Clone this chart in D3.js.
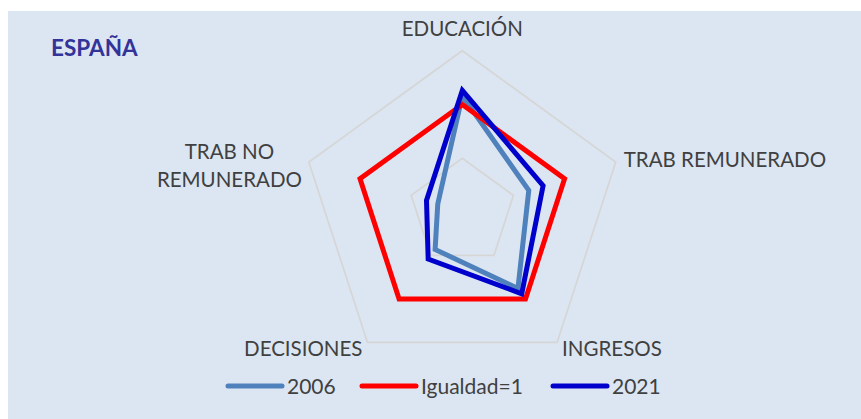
<!DOCTYPE html>
<html>
<head>
<meta charset="utf-8">
<script src="https://cdn.jsdelivr.net/npm/d3@7"></script>
<style>
  body { margin: 0; background: #fff; }
  text { font-family: Lato, "Open Sans", sans-serif; }
</style>
</head>
<body>
<svg id="chart" width="861" height="419"></svg>
<script>
// axes, clockwise from the top
const axes = ["EDUCACIÓN", "TRAB REMUNERADO", "INGRESOS", "DECISIONES", "TRAB NO\nREMUNERADO"];
const serieNames = ["2006", "Igualdad=1", "2021"];
const values2006 = [1.08, 0.65, 0.88, 0.43, 0.24];
const valuesIgualdad = [1, 1, 1, 1, 1];
const values2021 = [1.13, 0.79, 0.94, 0.54, 0.35];
const gridTicks = [0.5, 1, 1.5];
const title = "ESPAÑA";

const colors = ["#4F81BD", "#FF0000", "#0000CC"];
const series = [values2006, valuesIgualdad, values2021];

const svg = d3.select("#chart");
const width = 861, height = 419;
const cx = 462.3, cy = 212;

// panel
svg.append("rect")
  .attr("x", 8).attr("y", 11)
  .attr("width", width - 8).attr("height", height - 11)
  .attr("fill", "#DCE6F2");

svg.append("text")
  .attr("x", 51).attr("y", 56)
  .attr("fill", "#333399")
  .style("font-size", "22.5px")
  .style("font-weight", "bold")
  .text(title);

const r = d3.scaleLinear().domain([0, 1.5]).range([0, 161.3]);
const angle = i => i * 2 * Math.PI / axes.length;
const pt = (v, i) => [cx + r(v) * Math.sin(angle(i)), cy - r(v) * Math.cos(angle(i))];

const g = svg.append("g");

//grid pentagons
g.selectAll("path.grid")
  .data(gridTicks)
  .join("path")
  .attr("class", "grid")
  .attr("d", t => d3.line()(axes.map((a, i) => pt(t, i))) + "Z")
  .attr("fill", "none")
  .attr("stroke", "#D6D6D6")
  .attr("stroke-width", 1.75);

//series
g.selectAll("path.serie")
  .data(series)
  .join("path")
  .attr("class", "serie")
  .attr("d", s => d3.line()(s.map((v, i) => pt(v, i))) + "Z")
  .attr("fill", "none")
  .attr("stroke", (s, k) => colors[k])
  .attr("stroke-width", 5)
  .attr("stroke-linejoin", "miter")
  .attr("stroke-miterlimit", 10);

//axis labels
const maxV = gridTicks[gridTicks.length - 1];
axes.forEach((a, i) => {
  const [x, y] = pt(maxV, i);
  const s = Math.sin(angle(i)), c = Math.cos(angle(i));
  const lines = a.split("\n");
  const t = svg.append("text")
    .attr("fill", "#404040")
    .style("font-size", "20.5px");
  lines.forEach((l, j) => t.append("tspan").attr("x", 0).attr("dy", j ? 28.5 : 0).text(l));
  let tx, ty;
  if (Math.abs(s) < 0.01) { // top
    t.attr("text-anchor", "middle");
    tx = x; ty = y - 15;
  } else if (c < 0) { // bottom row
    t.attr("text-anchor", s > 0 ? "start" : "end");
    tx = x + (s > 0 ? 5 : -5); ty = y + 13.5;
  } else {
    const w = t.node().getBBox().width;
    t.attr("text-anchor", "middle");
    tx = s > 0 ? x + 8 + w / 2 : x - 7 - w / 2;
    ty = y + 5 - (lines.length - 1) * 28.5 + (lines.length > 1 ? 20.3 : 0);
  }
  t.attr("transform", `translate(${tx},${ty})`);
});

//legend
const legX = [228, 362, 553];
const leg = svg.append("g").selectAll("g")
  .data(serieNames)
  .join("g")
  .attr("transform", (d, k) => `translate(${legX[k]},386)`);
leg.append("line")
  .attr("x1", 0).attr("x2", 54)
  .attr("stroke", (d, k) => colors[k])
  .attr("stroke-width", 5)
  .attr("stroke-linecap", "round");
leg.append("text")
  .attr("x", 59).attr("y", 8)
  .attr("fill", "#404040")
  .style("font-size", "21px")
  .text(d => d);
</script>
</body>
</html>
